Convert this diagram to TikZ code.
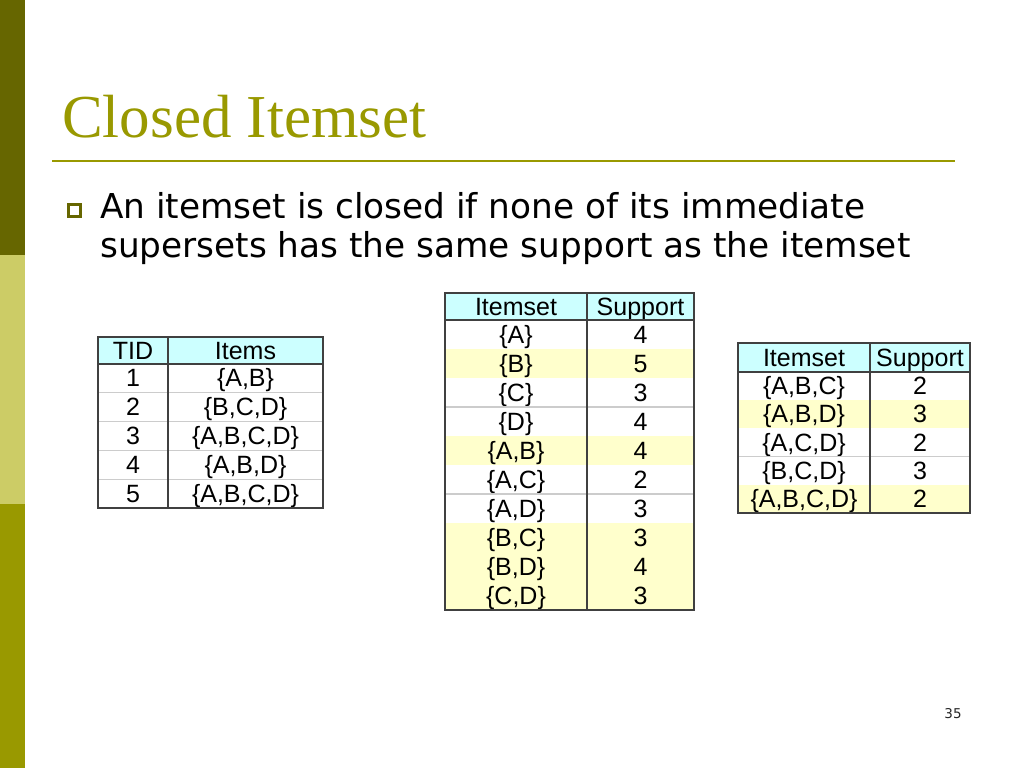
\documentclass[tikz,border=0pt]{standalone}
\usepackage{fontspec}
\setmainfont{DejaVu Sans}
\newfontfamily\titlefont{Liberation Serif}
\newfontfamily\tabfont{Liberation Sans}
\usetikzlibrary{matrix,positioning}

\definecolor{barDark}{HTML}{666600}
\definecolor{barLight}{HTML}{CCCC66}
\definecolor{barOlive}{HTML}{999900}
\definecolor{headcyan}{HTML}{CCFFFF}
\definecolor{rowyellow}{HTML}{FFFFCC}

\begin{document}
\begin{tikzpicture}[
x=1pt, y=-1pt,
array/.style={matrix of nodes,
              inner sep=0pt, outer sep=0pt,
              column sep=0pt, row sep=0pt,
              nodes={font=\tabfont\fontsize{25}{27}\selectfont,
                     inner sep=0pt, outer sep=0pt,
                     text height=20pt, text depth=3pt,
                     minimum height=28.8pt, anchor=center},
              row 1/.style={nodes={fill=headcyan}},
              nodes in empty cells
              },
frame/.style={draw=black!75, line width=1.3pt},
sepline/.style={draw=black!20, line width=1.2pt}]

\fill[white] (0,0) rectangle (1024,768);
\useasboundingbox (0,0) rectangle (1024,768);

% side bar
\fill[barDark] (0,0) rectangle (25,255);
\fill[barLight] (0,255) rectangle (25,504);
\fill[barOlive] (0,504) rectangle (25,768);

% title
\node[anchor=base west, inner sep=0pt, text=barOlive,
  font=\titlefont\fontsize{61}{62}\selectfont] (title) at (62,137) {Closed Itemset};
\draw[barOlive, line width=2pt] (52,161) -- (955,161);

% bullet
\node[draw=barDark, line width=3pt, minimum size=12pt, inner sep=0pt] (bullet) at (74.5,210.5) {};
\node[anchor=base west, inner sep=0pt, font=\fontsize{34.3}{39}\selectfont] (line1) at (100,218)
  {An itemset is closed if none of its immediate};
\node[anchor=base west, inner sep=0pt, font=\fontsize{34.3}{39}\selectfont] (line2) at ([yshift=-39pt]line1.base west)
  {supersets has the same support as the itemset};

% transactions
\matrix[array,
  anchor=north west,
  column 1/.style={nodes={minimum width=70pt}},
  column 2/.style={nodes={minimum width=155pt}},
  row 1/.append style={nodes={minimum height=27pt}}] at (98,337) (tids) {
TID & Items \\
1 & \{A,B\} \\
2 & \{B,C,D\} \\
3 & \{A,B,C,D\} \\
4 & \{A,B,D\} \\
5 & \{A,B,C,D\} \\};
\foreach \r in {2,...,5} {
  \draw[sepline] (tids-\r-1.south west) -- (tids-\r-2.south east);
}
\draw[frame] (tids-1-1.south west) -- (tids-1-2.south east);
\draw[frame] (tids-1-1.north east) -- (tids-6-1.south east);
\draw[frame] (tids.north west) rectangle (tids.south east);

% 1- and 2-itemsets
\matrix[array,
  anchor=north west,
  nodes={minimum height=29pt},
  column 1/.style={nodes={minimum width=142pt}},
  column 2/.style={nodes={minimum width=107pt}},
  row 1/.append style={nodes={minimum height=27pt}},
  row 3/.style={nodes={fill=rowyellow}},
  row 6/.style={nodes={fill=rowyellow}},
  row 9/.style={nodes={fill=rowyellow}},
  row 10/.style={nodes={fill=rowyellow}},
  row 11/.style={nodes={fill=rowyellow}}] at (445,293) (pairs) {
Itemset & Support \\
\{A\} & 4 \\
\{B\} & 5 \\
\{C\} & 3 \\
\{D\} & 4 \\
\{A,B\} & 4 \\
\{A,C\} & 2 \\
\{A,D\} & 3 \\
\{B,C\} & 3 \\
\{B,D\} & 4 \\
\{C,D\} & 3 \\};
\foreach \r in {4,7} {
  \draw[sepline] (pairs-\r-1.south west) -- (pairs-\r-2.south east);
}
\draw[frame] (pairs-1-1.south west) -- (pairs-1-2.south east);
\draw[frame] (pairs-1-1.north east) -- (pairs-11-1.south east);
\draw[frame] (pairs.north west) rectangle (pairs.south east);

% 3- and 4-itemsets
\matrix[array,
  anchor=north west,
  nodes={minimum height=28.2pt},
  column 1/.style={nodes={minimum width=132pt}},
  column 2/.style={nodes={minimum width=100pt}},
  row 1/.append style={nodes={minimum height=29pt}},
  row 3/.style={nodes={fill=rowyellow}},
  row 6/.style={nodes={fill=rowyellow}}] at (738,343) (triples) {
Itemset & Support \\
\{A,B,C\} & 2 \\
\{A,B,D\} & 3 \\
\{A,C,D\} & 2 \\
\{B,C,D\} & 3 \\
\{A,B,C,D\} & 2 \\};
\draw[sepline] (triples-4-1.south west) -- (triples-4-2.south east);
\draw[frame] (triples-1-1.south west) -- (triples-1-2.south east);
\draw[frame] (triples-1-1.north east) -- (triples-6-1.south east);
\draw[frame] (triples.north west) rectangle (triples.south east);

% page number
\node[anchor=base, inner sep=0pt, text=black!85, font=\fontsize{13.5}{14}\selectfont] (pagenum) at (953,718) {35};

\end{tikzpicture}
\end{document}
